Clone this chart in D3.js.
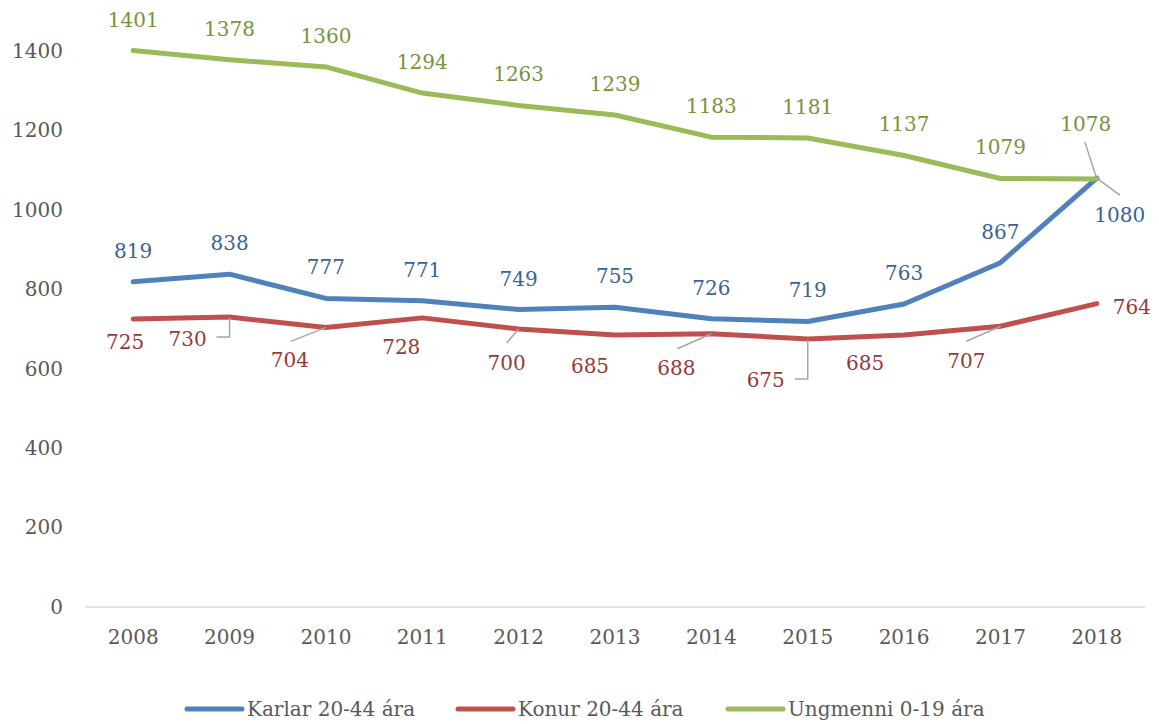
<!DOCTYPE html>
<html>
<head>
<meta charset="utf-8">
<script src="https://cdn.jsdelivr.net/npm/d3@7"></script>
<style>
  html, body { margin: 0; padding: 0; background: #fff; }
  svg { display: block; }
  text { font-family: "DejaVu Serif", "Liberation Serif", serif; }
</style>
</head>
<body>
<svg id="chart" width="1159" height="724"></svg>
<script>
// Years on the x axis
const years = ["2008","2009","2010","2011","2012","2013","2014","2015","2016","2017","2018"];

// Series values
const karlar   = [819, 838, 777, 771, 749, 755, 726, 719, 763, 867, 1080];
const konur    = [725, 730, 704, 728, 700, 685, 688, 675, 685, 707, 764];
const ungmenni = [1401, 1378, 1360, 1294, 1263, 1239, 1183, 1181, 1137, 1079, 1078];

const seriesNames = ["Karlar 20-44 ára", "Konur 20-44 ára", "Ungmenni 0-19 ára"];
const yTicks = [0, 200, 400, 600, 800, 1000, 1200, 1400];

// Styling
const lineColors  = ["#4F81BD", "#C0504D", "#9BBB59"];
const labelColors = ["#3A6396", "#963A38", "#77933C"];
const axisTextColor = "#595959";
const leaderColor = "#A6A6A6";

// Data label placement: text centre relative to the point, and optional leader line
// leader: "line" = straight from [lx,ly] (relative to point) to point; "elbow" = horizontal then vertical
const labelLayout = [
  // Karlar
  [[0,-31],[0,-31],[0,-31],[0,-31],[0,-31],[0,-31],[0,-31],[0,-31],[0,-31],[0,-31],
   [23,37,{type:"line", from:[23,17]}]],
  // Konur
  [[-8,23],
   [-42,22,{type:"elbow", from:[-13,20]}],
   [-36,33,{type:"line", from:[-35,14]}],
   [-21,29],
   [-12,34,{type:"line", from:[-12,14]}],
   [-25,31],
   [-35,34,{type:"line", from:[-34,15]}],
   [-42,41,{type:"elbow", from:[-13,40]}],
   [-39,28],
   [-34,35,{type:"line", from:[-34,15]}],
   [35,3]],
  // Ungmenni
  [[0,-31],[0,-31],[0,-31],[0,-31],[0,-31],[0,-31],[0,-31],[0,-31],[0,-31],[0,-31],
   [-11,-55,{type:"line", from:[-12,-37]}]]
];

const series = [karlar, konur, ungmenni];

const svg = d3.select("#chart");
const fontSize = 20;

const x = d3.scaleBand().domain(years).range([85, 1145]);
const xc = d => x(d) + x.bandwidth() / 2;
const y = d3.scaleLinear().domain([0, 1400]).range([607, 51]);

// Baseline
svg.append("line")
  .attr("x1", 85).attr("x2", 1145)
  .attr("y1", y(0)).attr("y2", y(0))
  .attr("stroke", "#D9D9D9").attr("stroke-width", 1.5);

// Y axis labels
const yAxis = d3.axisLeft(y).tickValues(yTicks).tickFormat(d3.format("d")).tickSize(0).tickPadding(0);
const gy = svg.append("g").attr("transform", "translate(63,0)").call(yAxis);
gy.select(".domain").remove();
gy.selectAll("text")
  .attr("fill", axisTextColor)
  .style("font-size", fontSize + "px")
  .style("font-family", '"DejaVu Serif", serif');

// X axis labels
const xAxis = d3.axisBottom(x).tickSize(0).tickPadding(0);
const gx = svg.append("g").attr("transform", "translate(0,630)").call(xAxis);
gx.select(".domain").remove();
gx.selectAll("text")
  .attr("fill", axisTextColor)
  .style("font-size", fontSize + "px")
  .style("font-family", '"DejaVu Serif", serif');

// Lines
const lineGen = d3.line()
  .x((d, i) => xc(years[i]))
  .y(d => y(d));

series.forEach((vals, si) => {
  svg.append("path")
    .datum(vals)
    .attr("d", lineGen)
    .attr("fill", "none")
    .attr("stroke", lineColors[si])
    .attr("stroke-width", 5)
    .attr("stroke-linejoin", "round")
    .attr("stroke-linecap", "round");
});

// Leader lines and data labels
series.forEach((vals, si) => {
  vals.forEach((v, i) => {
    const px = xc(years[i]);
    const py = y(v);
    const [dx, dy, leader] = labelLayout[si][i];
    if (leader) {
      const fx = px + leader.from[0];
      const fy = py + leader.from[1];
      let d;
      if (leader.type === "elbow") {
        d = `M${fx},${fy}H${px}V${py + 1}`;
      } else {
        d = `M${fx},${fy}L${px},${py}`;
      }
      svg.append("path")
        .attr("d", d)
        .attr("fill", "none")
        .attr("stroke", leaderColor)
        .attr("stroke-width", 1.5);
    }
    svg.append("text")
      .attr("x", px + dx)
      .attr("y", py + dy)
      .attr("text-anchor", "middle")
      .attr("dominant-baseline", "central")
      .attr("fill", labelColors[si])
      .style("font-size", fontSize + "px")
      .text(v);
  });
});

// Legend
const legendX = [187, 458, 728];
const legend = svg.append("g");
seriesNames.forEach((name, si) => {
  const g = legend.append("g").attr("transform", `translate(${legendX[si]},709)`);
  g.append("line")
    .attr("x1", 0).attr("x2", 55)
    .attr("y1", 0).attr("y2", 0)
    .attr("stroke", lineColors[si])
    .attr("stroke-width", 5)
    .attr("stroke-linecap", "round");
  g.append("text")
    .attr("x", 60)
    .attr("y", 0)
    .attr("dominant-baseline", "central")
    .attr("fill", axisTextColor)
    .style("font-size", fontSize + "px")
    .text(name);
});
</script>
</body>
</html>
